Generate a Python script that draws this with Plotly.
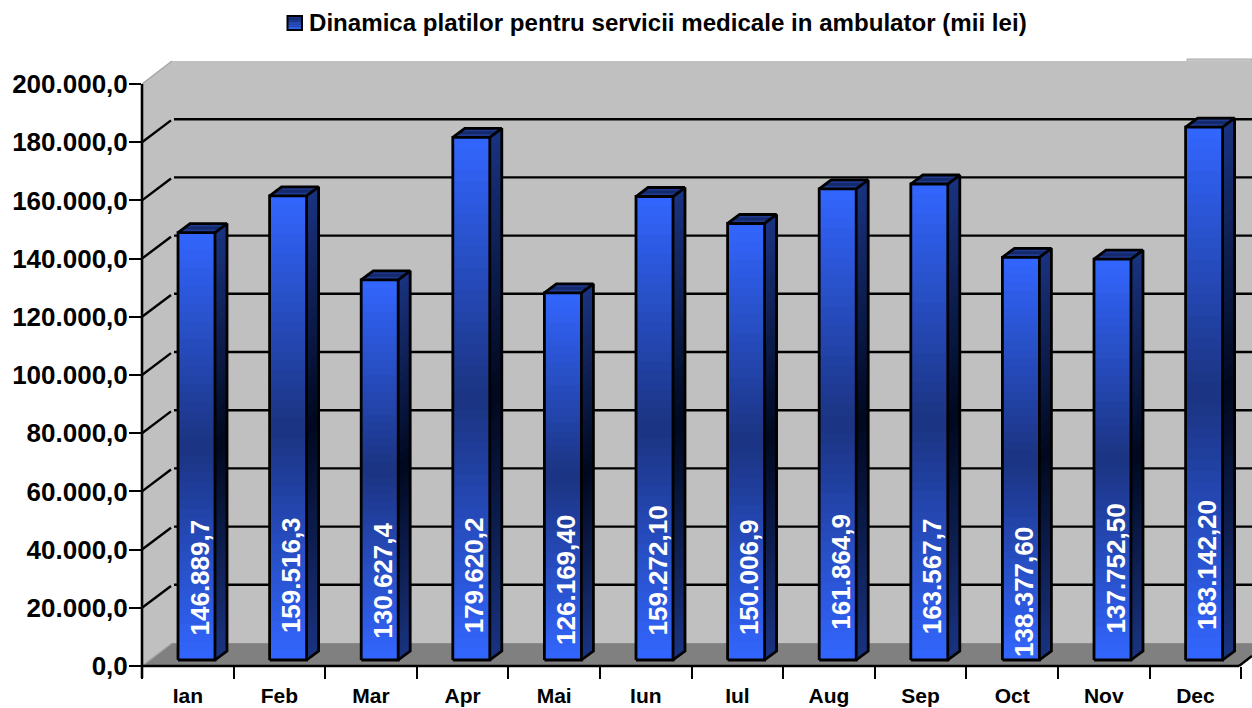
import plotly.graph_objects as go

# ---- data ----
months = ["Ian", "Feb", "Mar", "Apr", "Mai", "Iun", "Iul", "Aug", "Sep", "Oct", "Nov", "Dec"]
values = [146889.7, 159516.3, 130627.4, 179620.2, 126169.40, 159272.10,
          150006.9, 161864.9, 163567.7, 138377.60, 137752.50, 183142.20]
value_labels = ["146.889,7", "159.516,3", "130.627,4", "179.620,2", "126.169,40", "159.272,10",
                "150.006,9", "161.864,9", "163.567,7", "138.377,60", "137.752,50", "183.142,20"]
y_ticks = [0, 20000, 40000, 60000, 80000, 100000, 120000, 140000, 160000, 180000, 200000]
y_ticktext = ["0,0", "20.000,0", "40.000,0", "60.000,0", "80.000,0", "100.000,0", "120.000,0",
              "140.000,0", "160.000,0", "180.000,0", "200.000,0"]
series_name = "Dinamica platilor pentru servicii medicale in ambulator (mii lei)"

# ---- layout constants (pixels) ----
W, H = 1252, 708
L, T, B = 142, 58, 666
PX_PER_CAT = 91.6
PX_PER_VAL = 582 / 200000
plot_w, plot_h = W - L, B - T
cat = lambda px: px / PX_PER_CAT
val = lambda px: px / PX_PER_VAL
px_x = lambda p: (p - L) / plot_w
px_y = lambda p: (B - p) / plot_h

WALL_DX, WALL_DY = cat(30), val(23)
BAR_SHIFT, BAR_W = cat(8.7), cat(37)
BAR_DX, BAR_DY, BAR_BASE = cat(12), val(9), val(6)
XMIN, XMAX = -0.5, -0.5 + plot_w / PX_PER_CAT
YMAX = plot_h / PX_PER_VAL
FONT = "Liberation Sans"
# vertical centre of each rotated value label, in pixels
label_center_px = [578, 575, 581, 575, 580, 571, 577, 572, 576, 592, 569, 565]

def mix(c1, c2, t):
    return "rgb(%d,%d,%d)" % tuple(round(a + (b - a) * t) for a, b in zip(c1, c2))

LIGHT = (0x33, 0x66, 0xFF)
MID = (0x1A, 0x33, 0x80)
DARK = (0x00, 0x08, 0x1E)
N = 48
def tri(k):
    f = (k + 0.5) / N
    return 1 - abs(2 * f - 1)

xs = list(range(len(months)))
fig = go.Figure()

# gradient front faces: stacked slices of each value
bx, by, bb, bc = [], [], [], []
for x, v in zip(xs, values):
    for k in range(N):
        bx.append(x)
        bb.append(BAR_BASE + v * k / N)
        by.append(v / N * (1.08 if k < N - 1 else 1))
        bc.append(mix(LIGHT, MID, tri(k)))
fig.add_bar(x=bx, y=by, base=bb, width=BAR_W, offset=BAR_SHIFT - BAR_W / 2,
            marker=dict(color=bc, line=dict(width=0)), showlegend=False, hoverinfo="skip")

# gradient side faces
for k in range(N):
    sx, sy = [], []
    for x, v in zip(xs, values):
        r = x + BAR_SHIFT + BAR_W / 2
        b0 = BAR_BASE + v * k / N
        b1 = BAR_BASE + v * min(k + 1.1, N) / N
        sx += [r, r + BAR_DX, r + BAR_DX, r, r, None]
        sy += [b0, b0 + BAR_DY, b1 + BAR_DY, b1, b0, None]
    fig.add_scatter(x=sx, y=sy, mode="lines", fill="toself", line=dict(width=0),
                    fillcolor=mix(MID, DARK, tri(k)), showlegend=False, hoverinfo="skip")

# top faces and outlines
tx, ty, ox, oy, ix, iy = [], [], [], [], [], []
for x, v in zip(xs, values):
    l = x + BAR_SHIFT - BAR_W / 2
    r = l + BAR_W
    b = BAR_BASE
    t = b + v
    tx += [l, r, r + BAR_DX, l + BAR_DX, l, None]
    ty += [t, t, t + BAR_DY, t + BAR_DY, t, None]
    ox += [l, r, r, l, l, None, r, r + BAR_DX, r + BAR_DX, r, None,
           l, l + BAR_DX, r + BAR_DX, None]
    oy += [b, b, t, t, b, None, b, b + BAR_DY, t + BAR_DY, t, None,
           t, t + BAR_DY, t + BAR_DY, None]
    ix += [l + BAR_DX / 2, r + BAR_DX / 2, None]
    iy += [t + BAR_DY / 2, t + BAR_DY / 2, None]
fig.add_scatter(x=tx, y=ty, mode="lines", fill="toself", line=dict(width=0),
                fillcolor="#1F3A90", showlegend=False, hoverinfo="skip")
fig.add_scatter(x=ix, y=iy, mode="lines", line=dict(width=3, color="#142A6C"),
                showlegend=False, hoverinfo="skip")
fig.add_scatter(x=ox, y=oy, mode="lines", line=dict(width=2.8, color="#000000"),
                showlegend=False, hoverinfo="skip")

# legend entry used as the chart heading (its key is drawn as a shape below)
fig.add_scatter(x=[None], y=[None], mode="markers", name=series_name,
                marker=dict(symbol="square", size=10, color="rgba(0,0,0,0)",
                            line=dict(width=0, color="rgba(0,0,0,0)")))

# walls, floor, gridlines
x_back = XMIN + WALL_DX
shapes = [
    dict(type="rect", xref="paper", yref="paper", x0=px_x(1187), x1=1, y0=px_y(59), y1=px_y(61.5),
         fillcolor="#C8C8C8", line=dict(color="#ABABAB", width=1), layer="below"),
    dict(type="rect", xref="x", yref="y", x0=x_back, x1=XMAX, y0=WALL_DY, y1=200000 + WALL_DY,
         fillcolor="#C0C0C0", line_width=0, layer="below"),
    dict(type="path", xref="paper", yref="paper",
         path="M %f %f L %f %f L %f %f L %f %f Z" % (0, 200000 / YMAX, WALL_DX * PX_PER_CAT / plot_w,
                                                     (200000 + WALL_DY) / YMAX,
                                                     WALL_DX * PX_PER_CAT / plot_w, WALL_DY / YMAX, 0, 0),
         fillcolor="#C0C0C0", line_width=0, layer="below"),
    dict(type="path", xref="paper", yref="paper",
         path="M %f %f L %f %f L %f %f L %f %f L %f %f Z" % (
             0, 0, px_x(172), px_y(643), 1, px_y(643), 1, px_y(656), px_x(1239), 0),
         fillcolor="#808080", line_width=0, layer="below"),
    dict(type="line", xref="paper", yref="paper", x0=px_x(172), x1=1, y0=px_y(642.5), y1=px_y(642.5),
         line=dict(color="#A6A6A6", width=1.5), layer="below"),
    dict(type="line", xref="paper", yref="paper", x0=0, x1=px_x(172), y0=0, y1=px_y(643),
         line=dict(color="#A6A6A6", width=1.5), layer="below"),
    dict(type="line", xref="paper", yref="paper", x0=0, x1=px_x(172), y0=px_y(84), y1=px_y(61),
         line=dict(color="#A6A6A6", width=1.5), layer="below"),
]
for v in y_ticks[1:-1]:
    shapes.append(dict(type="line", xref="x", yref="y", x0=XMIN, x1=x_back - cat(1),
                       y0=v, y1=v + WALL_DY * 0.95, line=dict(color="#000", width=2.4), layer="below"))
    shapes.append(dict(type="line", xref="x", yref="y", x0=x_back + cat(2), x1=XMAX,
                       y0=v + WALL_DY, y1=v + WALL_DY, line=dict(color="#000", width=2.4), layer="below"))
# axis lines
shapes += [
    dict(type="line", xref="paper", yref="paper", x0=0, x1=0, y0=px_y(84), y1=px_y(678),
         line=dict(color="#000", width=2.6), layer="below"),
    dict(type="line", xref="paper", yref="paper", x0=0, x1=px_x(1239), y0=0, y1=0,
         line=dict(color="#000", width=2.6), layer="below"),
    dict(type="line", xref="paper", yref="paper", x0=px_x(1239), x1=1, y0=0, y1=px_y(656),
         line=dict(color="#000", width=2.4), layer="below"),
]
# legend key
shapes.append(dict(type="rect", xref="paper", yref="paper", x0=px_x(286.5), x1=px_x(303),
                   y0=px_y(31), y1=px_y(15), fillcolor="#000000", line_width=0, layer="above"))
key_colors = ["#1A3380", "#1E3B93", "#2547B0", "#2A53CC", "#3060E8"]
for i, c in enumerate(key_colors):
    shapes.append(dict(type="rect", xref="paper", yref="paper", x0=px_x(288.5), x1=px_x(301),
                       y0=px_y(17 + (i + 1) * 2.4), y1=px_y(17 + i * 2.4),
                       fillcolor=c, line_width=0, layer="above"))

annotations = []
for x, lab, cy in zip(xs, value_labels, label_center_px):
    annotations.append(dict(x=x + BAR_SHIFT, y=(B - cy) / PX_PER_VAL, xref="x", yref="y",
                            text=lab, showarrow=False, textangle=-90, xanchor="center", yanchor="middle",
                            xshift=3,
                            font=dict(family=FONT, size=26, color="#FFFFFF", weight="bold")))

fig.update_layout(
    width=W, height=H, autosize=False,
    margin=dict(l=L, r=0, t=T, b=H - B, pad=0, autoexpand=False),
    paper_bgcolor="#FFFFFF", plot_bgcolor="rgba(0,0,0,0)",
    barmode="overlay", bargap=0,
    shapes=shapes, annotations=annotations,
    showlegend=True,
    legend=dict(x=px_x(269), y=px_y(-1), xanchor="left", yanchor="top", itemwidth=30,
                bgcolor="rgba(0,0,0,0)", borderwidth=0,
                font=dict(family=FONT, size=24.1, color="#000000", weight="bold")),
    xaxis=dict(range=[XMIN, XMAX], showgrid=False, zeroline=False, showline=False,
               tickmode="array", tickvals=xs, ticktext=months,
               ticks="outside", ticklen=11, tickcolor="rgba(0,0,0,0)", tickwidth=1,
               tickfont=dict(family=FONT, size=21, color="#000000", weight="bold"),
               minor=dict(tickmode="array", tickvals=[i - 0.5 for i in range(len(months) + 1)],
                          ticks="outside", ticklen=12, tickwidth=2.4, tickcolor="#000000", showgrid=False)),
    yaxis=dict(range=[0, YMAX], showgrid=False, zeroline=False, showline=False,
               tickmode="array", tickvals=y_ticks, ticktext=y_ticktext,
               ticks="outside", ticklen=12, tickwidth=2.4, tickcolor="#000000", ticklabelstandoff=-4,
               tickfont=dict(family=FONT, size=26, color="#000000", weight="bold")),
)
fig.write_html("out.html", post_script="document.body.style.margin='0';",
               config={"displayModeBar": False})
